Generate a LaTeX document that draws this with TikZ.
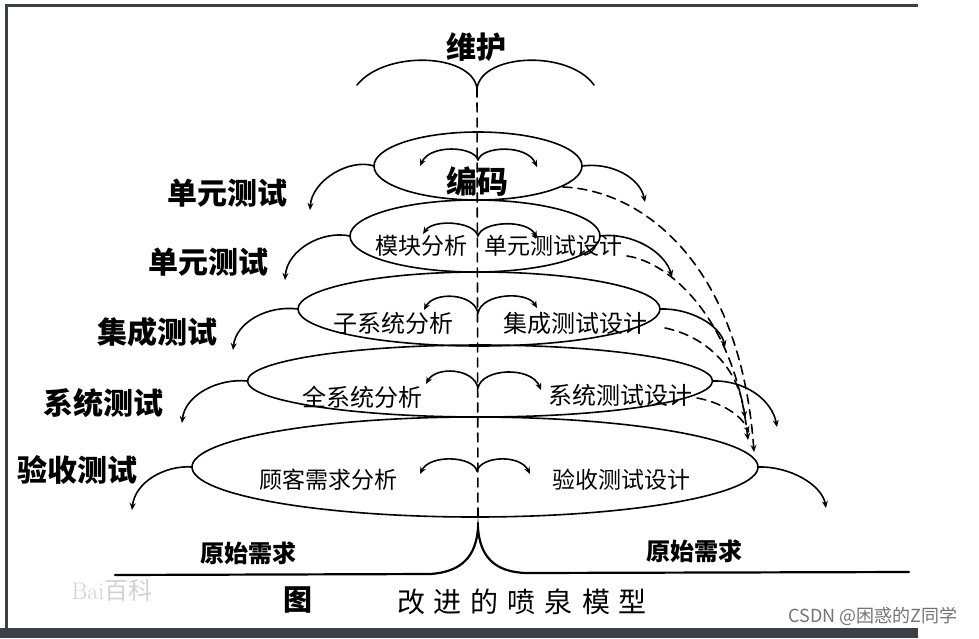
\documentclass[tikz,border=0pt]{standalone}
\usepackage{fontspec}
\newfontfamily\cjk{Noto Sans CJK SC}
\usetikzlibrary{shapes.geometric,arrows.meta}
\definecolor{framec}{RGB}{60,63,70}
\tikzset{
  ell/.style={draw, ellipse, inner sep=0pt, outer sep=0pt},
  arr/.style={-{Stealth[length=7pt,width=6pt]}},
  dsh/.style={dash pattern=on 9pt off 6pt},
  lbl/.style={inner sep=0pt, font=\cjk\bfseries\fontsize{30}{30}\selectfont},
  inn/.style={inner sep=0pt, font=\cjk\fontsize{23}{23}\selectfont},
}
\begin{document}
\begin{tikzpicture}[x=1pt,y=-1pt,line width=1.6pt,line cap=round]
\useasboundingbox (0,0) rectangle (979,638);
% frame
\fill[framec] (0,628) rectangle (918,638);
\draw[framec,line width=3pt,line cap=butt] (6,630) -- (6,5) -- (918,5);

% watermarks
\node[inner sep=0pt, text=black!18, font=\fontsize{24}{24}\selectfont] (bd) at (112,590) {Bai\cjk 百科};
\node[inner sep=0pt, text=black!55, font=\cjk\fontsize{18}{18}\selectfont] (csdn) at (873,616) {CSDN @困惑的Z同学};

% ellipses
\node[ell, minimum width=208pt, minimum height=68pt] (e1) at (478,166) {};
\node[ell, minimum width=250pt, minimum height=72pt] (e2) at (475,236) {};
\node[ell, minimum width=362pt, minimum height=74pt] (e3) at (479,309) {};
\node[ell, minimum width=465pt, minimum height=72pt] (e4) at (480,381) {};
\node[ell, minimum width=566pt, minimum height=100pt] (e5) at (475,467) {};

% top
\node[lbl] (wh) at (476,47) {维护};
\coordinate (tc) at (477,88);
\coordinate (tl) at (357,85);
\coordinate (tr) at (594,85);
\draw (tc) .. controls (471,53) and (385,50) .. (tl);
\draw (tc) .. controls (483,53) and (569,50) .. (tr);

% bottom
\coordinate (bp) at (478,528);
\coordinate (bl) at (115,575);
\coordinate (br) at (909,572);
\draw[line width=2.2pt] (bl) -- (430,574) .. controls (462,572) and (476,556) .. (bp)
  .. controls (480,556) and (494,572) .. (526,573) -- (br);

% centre line
\draw[dsh] (tc) -- (bp);

% fountains
\coordinate (c1) at (478,160); \coordinate (f1l) at (420,166); \coordinate (f1r) at (537,167);
\draw[arr] (c1) .. controls (474,146) and (430,144) .. (f1l);
\draw[arr] (c1) .. controls (482,146) and (527,144) .. (f1r);
\coordinate (c2) at (478,236); \coordinate (f2l) at (423,234); \coordinate (f2r) at (537,238);
\draw[arr] (c2) .. controls (474,221) and (433,219) .. (f2l);
\draw[arr] (c2) .. controls (482,221) and (527,219) .. (f2r);
\coordinate (c3) at (478,313); \coordinate (f3l) at (424,310); \coordinate (f3r) at (537,308);
\draw[arr] (c3) .. controls (474,293) and (434,291) .. (f3l);
\draw[arr] (c3) .. controls (482,293) and (527,291) .. (f3r);
\coordinate (c4) at (478,388); \coordinate (f4l) at (426,384); \coordinate (f4r) at (541,390);
\draw[arr] (c4) .. controls (474,368) and (436,366) .. (f4l);
\draw[arr] (c4) .. controls (482,368) and (531,366) .. (f4r);
\coordinate (c5) at (477,471); \coordinate (f5l) at (420,474); \coordinate (f5r) at (530,474);
\draw[arr] (c5) .. controls (473,456) and (430,454) .. (f5l);
\draw[arr] (c5) .. controls (481,456) and (520,454) .. (f5r);

% inner texts
\node[inn, font=\cjk\bfseries\fontsize{31}{31}\selectfont] (t1) at (477,182) {编码};
\node[inn] (t2l) at (421,246) {模块分析};
\node[inn] (t2r) at (553,246) {单元测试设计};
\node[inn, font=\cjk\fontsize{24}{24}\selectfont] (t3l) at (393,323) {子系统分析};
\node[inn, font=\cjk\fontsize{24}{24}\selectfont] (t3r) at (575,323) {集成测试设计};
\node[inn, font=\cjk\fontsize{24}{24}\selectfont] (t4l) at (362,397) {全系统分析};
\node[inn, font=\cjk\fontsize{24}{24}\selectfont] (t4r) at (620,395) {系统测试设计};
\node[inn] (t5l) at (328,480) {顾客需求分析};
\node[inn] (t5r) at (621,480) {验收测试设计};

% left arcs and labels
\coordinate (l1) at (310,210);
\coordinate (l2) at (285,280);
\coordinate (l3) at (233,350);
\coordinate (l4) at (182,423);
\coordinate (l5) at (132,510);
\draw[arr] (e1.west) .. controls (350,158) and (312,180) .. (l1);
\draw[arr] (e2.west) .. controls (322,230) and (287,250) .. (l2);
\draw[arr] (e3.west) .. controls (268,305) and (236,322) .. (l3);
\draw[arr] (e4.west) .. controls (218,378) and (185,395) .. (l4);
\draw[arr] (e5.west) .. controls (165,465) and (135,482) .. (l5);
\node[lbl] (a1) at (227,193) {单元测试};
\node[lbl] (a2) at (208,262) {单元测试};
\node[lbl] (a3) at (157,332) {集成测试};
\node[lbl] (a4) at (103,403) {系统测试};
\node[lbl] (a5) at (77,470) {验收测试};

% right arcs
\coordinate (r1) at (645,202);
\coordinate (r2) at (672,277);
\coordinate (r3) at (725,347);
\coordinate (r4) at (777,427);
\coordinate (r5) at (826,508);
\draw[arr] (e1.east) .. controls (612,162) and (640,178) .. (r1);
\draw[arr] (e2.east) .. controls (632,232) and (665,252) .. (r2);
\draw[arr] (e3.east) .. controls (690,308) and (720,325) .. (r3);
\draw[arr] (e4.east) .. controls (745,380) and (772,400) .. (r4);
\draw[arr] (e5.east) .. controls (790,466) and (822,485) .. (r5);

% dashed feedback
\coordinate (d1s) at (563,187); \coordinate (d1e) at (754,452);
\coordinate (d2s) at (627,256); \coordinate (d2e) at (748,440);
\coordinate (d3s) at (665,328); \coordinate (d3e) at (745,418);
\coordinate (d4s) at (697,398); \coordinate (d4e) at (749,433);
\draw[dsh,arr] (d1s) .. controls (640,190) and (740,260) .. (d1e);
\draw[dsh,arr] (d2s) .. controls (670,262) and (735,320) .. (d2e);
\draw[dsh,arr] (d3s) .. controls (700,335) and (738,362) .. (d3e);
\draw[dsh,arr] (d4s) .. controls (720,402) and (742,415) .. (d4e);

% bottom texts
\node[inn, font=\cjk\bfseries\fontsize{24}{24}\selectfont] (o1) at (248,553) {原始需求};
\node[inn, font=\cjk\bfseries\fontsize{24}{24}\selectfont] (o2) at (694,551) {原始需求};
\node[inn, font=\cjk\bfseries\fontsize{29}{29}\selectfont] (cap1) at (298,600) {图};
\node[inn, font=\cjk\fontsize{28}{28}\selectfont] (cap2) at (522,602) {改\hspace{9pt}进\hspace{9pt}的\hspace{9pt}喷\hspace{9pt}泉\hspace{9pt}模\hspace{9pt}型};
\end{tikzpicture}
\end{document}
